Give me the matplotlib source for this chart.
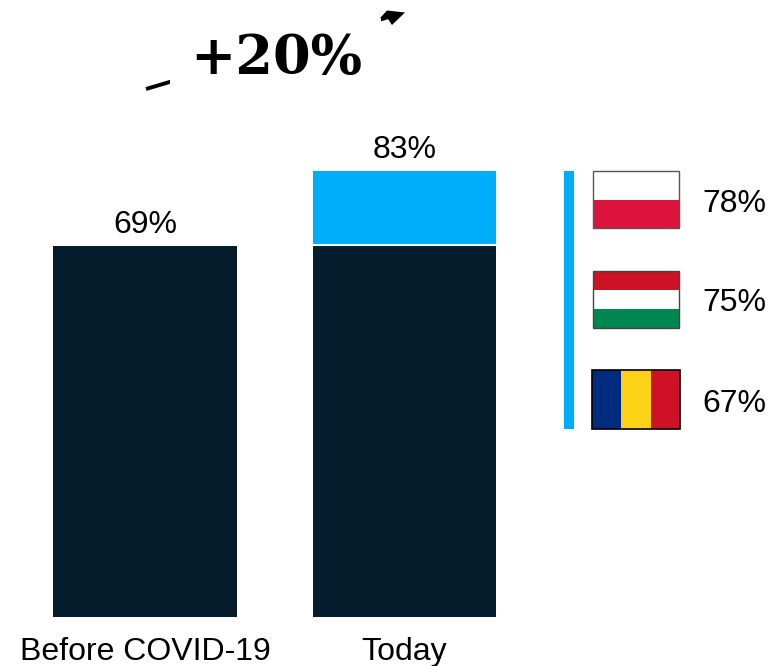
import matplotlib
matplotlib.use("Agg")
import matplotlib.pyplot as plt
from matplotlib.patches import Rectangle, Polygon

plt.rcParams['font.family'] = ['Liberation Sans', 'DejaVu Sans']

categories = ["Before COVID-19", "Today"]
base_values = [69, 69]
extra_values = [0, 14]
bar_labels = ["69%", "83%"]
total_values = [69, 83]

countries = ["Poland", "Hungary", "Romania"]
country_labels = ["78%", "75%", "67%"]
growth_label = "+20%"

DARK = "#041C2C"
BLUE = "#00ADF8"

fig = plt.figure(figsize=(7.72, 6.66), dpi=100)

# overlay in pixel coords for the non-data stuff
over = fig.add_axes([0, 0, 1, 1])
over.set_xlim(0, 772)
over.set_ylim(666, 0)
over.axis("off")

# bars
ax = fig.add_axes([15.25 / 772, 49 / 666, 519 / 772, 537.7 / 666])
ax.patch.set_alpha(0)
ax.bar(categories, base_values, width=0.708, color=DARK)
ax.bar(categories, extra_values, width=0.708, bottom=base_values, color=BLUE)
ax.hlines(69.2, 0.6, 1.4, color="white", lw=1.5)
ax.set_xlim(-0.5, 1.5)
ax.set_ylim(0, 100)
for s in ax.spines.values():
    s.set_visible(False)
ax.set_yticks([])
ax.tick_params(axis="x", length=0, labelsize=23, pad=14.5)
for i, t in enumerate(total_values):
    ax.text(i, t + 1.1, bar_labels[i], ha="center", va="bottom", fontsize=23)

# growth arrow, middle hidden behind the text
over.plot([146, 392], [89, 16], color="black", lw=2.8, solid_capstyle="butt")
over.add_patch(Rectangle((170, 5), 211, 90, facecolor="white", edgecolor="none", zorder=3))
over.add_patch(Polygon([(405, 12.5), (387, 10.5), (380, 18), (388, 19), (392, 25)],
                       facecolor="black", edgecolor="none", zorder=4))
over.text(276, 59, growth_label, ha="center", va="center", fontsize=39, fontweight="bold",
          family="DejaVu Serif", color="black", zorder=4)

# side bar and flags
over.add_patch(Rectangle((564, 171), 10, 258, facecolor=BLUE, edgecolor="none"))

# Poland
over.add_patch(Rectangle((593, 171), 86, 28.5, facecolor="white", edgecolor="none"))
over.add_patch(Rectangle((593, 199.5), 86, 28.5, facecolor="#DC143C", edgecolor="none"))
over.add_patch(Rectangle((593, 171), 86, 57, facecolor="none", edgecolor="#555555", lw=1))
# Hungary
over.add_patch(Rectangle((593, 271), 86, 19, facecolor="#CD1225", edgecolor="none"))
over.add_patch(Rectangle((593, 290), 86, 19, facecolor="white", edgecolor="none"))
over.add_patch(Rectangle((593, 309), 86, 19, facecolor="#008751", edgecolor="none"))
over.add_patch(Rectangle((593, 271), 86, 57, facecolor="none", edgecolor="#444444", lw=1))
# Romania
over.add_patch(Rectangle((592, 370), 29, 59, facecolor="#002B7F", edgecolor="none"))
over.add_patch(Rectangle((621, 370), 29.5, 59, facecolor="#FCD116", edgecolor="none"))
over.add_patch(Rectangle((650.5, 370), 29.5, 59, facecolor="#CE1126", edgecolor="none"))
over.add_patch(Rectangle((592, 370), 88, 59, facecolor="none", edgecolor="black", lw=1.2))

for lab, y in zip(country_labels, [204, 303, 404]):
    over.text(734, y, lab, ha="center", va="center", fontsize=23)

fig.savefig("out.png", dpi=100)
